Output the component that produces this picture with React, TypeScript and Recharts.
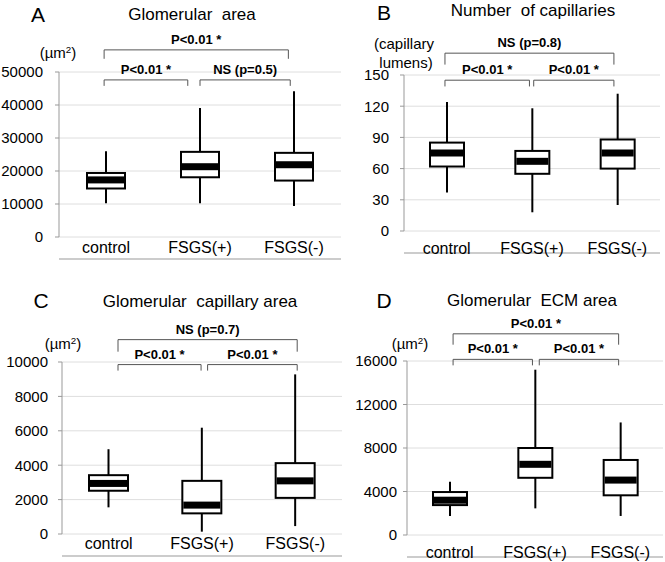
import React from "react";
import { ComposedChart, Bar, XAxis, YAxis, CartesianGrid, ReferenceLine } from "recharts";

const categories = ["control", "FSGS(+)", "FSGS(-)"];

// A: glomerular area (µm²)
const areaMin = [10200, 10200, 9400];
const areaQ1 = [14700, 18100, 17100];
const areaMedian = [17300, 21300, 21900];
const areaQ3 = [19400, 25800, 25500];
const areaMax = [26000, 39100, 44200];
const areaTicks = [0, 10000, 20000, 30000, 40000, 50000];

// B: number of capillary lumens
const lumenMin = [37, 18, 25];
const lumenQ1 = [62, 55, 60];
const lumenMedian = [75, 67, 75];
const lumenQ3 = [85, 77, 88];
const lumenMax = [124, 118, 132];
const lumenTicks = [0, 30, 60, 90, 120, 150];

// C: glomerular capillary area (µm²)
const capAreaMin = [1550, 135, 460];
const capAreaQ1 = [2515, 1200, 2100];
const capAreaMedian = [2940, 1680, 3090];
const capAreaQ3 = [3420, 3090, 4120];
const capAreaMax = [4930, 6180, 9280];
const capAreaTicks = [0, 2000, 4000, 6000, 8000, 10000];

// D: glomerular ECM area (µm²)
const ecmMin = [1750, 2450, 1750];
const ecmQ1 = [2750, 5260, 3650];
const ecmMedian = [3200, 6500, 5050];
const ecmQ3 = [3950, 8000, 6900];
const ecmMax = [4900, 15200, 10350];
const ecmTicks = [0, 4000, 8000, 12000, 16000];

// significance brackets, x in category units (0..3)
const areaBrackets = [
  { from: 0.48, to: 2.44, y: 56700, drop: 2700, label: "P<0.01 *" },
  { from: 0.48, to: 1.37, y: 47600, drop: 1800, label: "P<0.01 *" },
  { from: 1.5, to: 2.46, y: 47600, drop: 1800, label: "NS (p=0.5)" },
];
const lumenBrackets = [
  { from: 0.48, to: 2.46, y: 171, drop: 11, label: "NS (p=0.8)" },
  { from: 0.48, to: 1.47, y: 145, drop: 6, label: "P<0.01 *" },
  { from: 1.52, to: 2.46, y: 145, drop: 6, label: "P<0.01 *" },
];
const capAreaBrackets = [
  { from: 0.6, to: 2.52, y: 11300, drop: 700, label: "NS (p=0.7)" },
  { from: 0.6, to: 1.49, y: 9850, drop: 350, label: "P<0.01 *" },
  { from: 1.56, to: 2.52, y: 9850, drop: 350, label: "P<0.01 *" },
];
const ecmBrackets = [
  { from: 0.54, to: 2.48, y: 18500, drop: 1000, label: "P<0.01 *" },
  { from: 0.54, to: 1.47, y: 16150, drop: 550, label: "P<0.01 *" },
  { from: 1.55, to: 2.48, y: 16150, drop: 550, label: "P<0.01 *" },
];

const toRows = (min: number[], q1: number[], med: number[], q3: number[], max: number[]) =>
  categories.map((name, i) => ({
    pos: i + 0.5,
    name,
    min: min[i],
    q1: q1[i],
    med: med[i],
    q3: q3[i],
    max: max[i],
  }));

const FONT = '"Liberation Sans", Arial, sans-serif';

function BoxShape(props: any) {
  const { x, y, width, height, payload } = props;
  if (!payload || !height) return null;
  const top = Math.min(y, y + height);
  const k = Math.abs(height) / (payload.max - payload.min);
  const py = (v: number) => top + (payload.max - v) * k;
  const cx = x + width / 2;
  return (
    <g>
      <line x1={cx} x2={cx} y1={py(payload.max)} y2={py(payload.min)} stroke="#000" strokeWidth={2} />
      <rect
        x={x}
        y={py(payload.q3)}
        width={width}
        height={py(payload.q1) - py(payload.q3)}
        fill="#fff"
        stroke="#000"
        strokeWidth={2}
      />
      <rect x={x + 1} y={py(payload.med) - 3.5} width={width - 2} height={7} fill="#000" />
    </g>
  );
}

const panels = [
  {
    id: "A",
    rows: toRows(areaMin, areaQ1, areaMedian, areaQ3, areaMax),
    ticks: areaTicks,
    brackets: areaBrackets,
    left: 0, top: 0, width: 343, height: 263, marginTop: 72, marginBottom: 0,
    yWidth: 59, labelGap: 5, yGap: 12, barSize: 38,
  },
  {
    id: "B",
    rows: toRows(lumenMin, lumenQ1, lumenMedian, lumenQ3, lumenMax),
    ticks: lumenTicks,
    brackets: lumenBrackets,
    left: 354, top: 0, width: 308, height: 257, marginTop: 75, marginBottom: 0,
    yWidth: 50, labelGap: 12, yGap: 11, barSize: 34,
  },
  {
    id: "C",
    rows: toRows(capAreaMin, capAreaQ1, capAreaMedian, capAreaQ3, capAreaMax),
    ticks: capAreaTicks,
    brackets: capAreaBrackets,
    left: 0, top: 280, width: 344, height: 282, marginTop: 82, marginBottom: 2,
    yWidth: 62, labelGap: 4, yGap: 10, barSize: 39,
  },
  {
    id: "D",
    rows: toRows(ecmMin, ecmQ1, ecmMedian, ecmQ3, ecmMax),
    ticks: ecmTicks,
    brackets: ecmBrackets,
    left: 349, top: 280, width: 316, height: 284, marginTop: 81, marginBottom: 3,
    yWidth: 58, labelGap: 12, yGap: 6, barSize: 34,
  },
];

function Panel({ p }: { p: (typeof panels)[number] }) {
  const yMax = p.ticks[p.ticks.length - 1];
  const lineStyle = { stroke: "#555", strokeWidth: 1 };
  const bracketLines = p.brackets.flatMap((b, i) => [
    <ReferenceLine
      key={`h${i}`}
      xAxisId="t"
      segment={[{ x: b.from, y: b.y }, { x: b.to, y: b.y }]}
      ifOverflow="visible"
      {...lineStyle}
      label={{ value: b.label, position: "top", offset: 6, fontSize: 13, fontWeight: "bold", fill: "#000" }}
    />,
    <ReferenceLine
      key={`l${i}`}
      xAxisId="t"
      segment={[{ x: b.from, y: b.y }, { x: b.from, y: b.y - b.drop }]}
      ifOverflow="visible"
      {...lineStyle}
    />,
    <ReferenceLine
      key={`r${i}`}
      xAxisId="t"
      segment={[{ x: b.to, y: b.y }, { x: b.to, y: b.y - b.drop }]}
      ifOverflow="visible"
      {...lineStyle}
    />,
  ]);

  return (
    <div style={{ position: "absolute", left: p.left, top: p.top }}>
      <ComposedChart
        width={p.width}
        height={p.height}
        data={p.rows}
        margin={{ top: p.marginTop, right: 2, bottom: p.marginBottom, left: 0 }}
      >
        <CartesianGrid xAxisId="t" vertical={false} stroke="#dedede" />
        <XAxis
          xAxisId="t"
          dataKey="pos"
          type="number"
          domain={[0, 3]}
          ticks={[0, 1, 2, 3]}
          tick={false}
          tickSize={4}
          height={4}
          axisLine={{ stroke: "#999" }}
          tickLine={{ stroke: "#999" }}
        />
        <XAxis
          xAxisId="c"
          dataKey="pos"
          type="number"
          domain={[0, 3]}
          ticks={[0.5, 1.5, 2.5]}
          interval={0}
          tickFormatter={(v: number) => categories[Math.floor(v)]}
          axisLine={false}
          tickLine={false}
          tickSize={0}
          tickMargin={p.labelGap}
          height={22}
          tick={{ fill: "#000", fontSize: 16 }}
        />
        <YAxis
          width={p.yWidth}
          domain={[0, yMax]}
          ticks={p.ticks}
          interval={0}
          tickSize={4}
          tickMargin={p.yGap}
          axisLine={{ stroke: "#999" }}
          tickLine={{ stroke: "#999" }}
          tick={{ fill: "#000", fontSize: 15 }}
        />
        <Bar
          xAxisId="t"
          dataKey={(d: any) => [d.min, d.max]}
          barSize={p.barSize}
          shape={BoxShape}
          isAnimationActive={false}
        />
        {bracketLines}
      </ComposedChart>
    </div>
  );
}

function Txt({ x, y, size, children }: { x: number; y: number; size: number; children: React.ReactNode }) {
  return (
    <div
      style={{
        position: "absolute",
        left: x,
        top: y,
        transform: "translate(-50%, -50%)",
        fontSize: size,
        lineHeight: 1,
        whiteSpace: "pre",
        color: "#000",
      }}
    >
      {children}
    </div>
  );
}

const um2 = (
  <>
    (µm<sup style={{ fontSize: "0.65em", verticalAlign: "0.45em" }}>2</sup>)
  </>
);

export default function App() {
  return (
    <div
      style={{
        position: "absolute",
        left: 0,
        top: 0,
        width: 665,
        height: 562,
        overflow: "hidden",
        background: "#fff",
        fontFamily: FONT,
      }}
    >
      {panels.map((p) => (
        <Panel key={p.id} p={p} />
      ))}

      <Txt x={38} y={14} size={21}>A</Txt>
      <Txt x={192} y={14} size={17}>Glomerular  area</Txt>
      <Txt x={58} y={52} size={15}>{um2}</Txt>

      <Txt x={384} y={12} size={21}>B</Txt>
      <Txt x={533} y={10} size={17}>Number  of capillaries</Txt>
      <Txt x={404} y={43} size={15}>(capillary</Txt>
      <Txt x={406} y={62} size={15}>lumens)</Txt>

      <Txt x={41} y={300} size={21}>C</Txt>
      <Txt x={200} y={301} size={17}>Glomerular  capillary area</Txt>
      <Txt x={63} y={343} size={15}>{um2}</Txt>

      <Txt x={384} y={300} size={21}>D</Txt>
      <Txt x={532} y={300} size={17}>Glomerular  ECM area</Txt>
      <Txt x={410} y={343} size={15}>{um2}</Txt>
    </div>
  );
}
